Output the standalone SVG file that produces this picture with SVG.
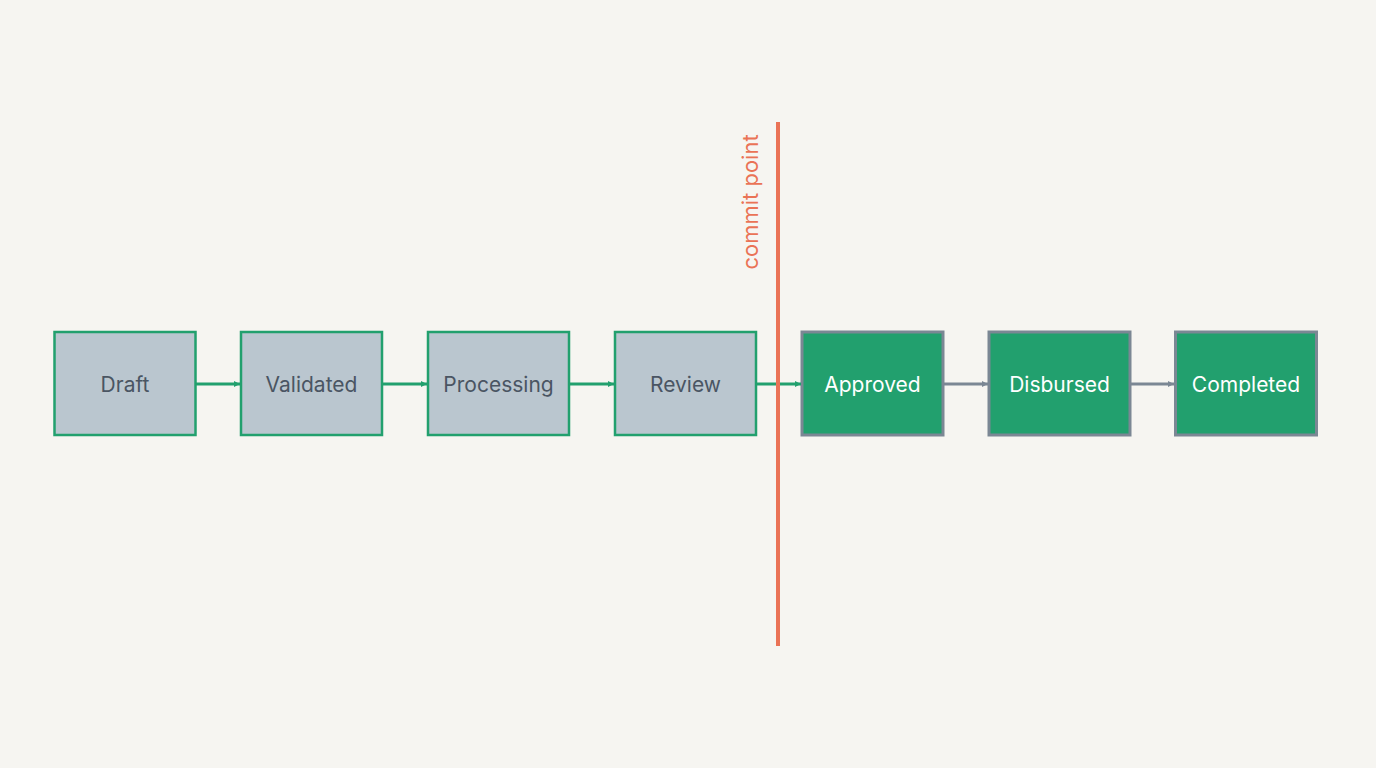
<svg xmlns="http://www.w3.org/2000/svg" width="1376" height="768" viewBox="0 0 1376 768">
<style>
.pre rect{fill:#bac6cf;stroke:#22a06e;stroke-width:2.5}
.post rect{fill:#22a06e;stroke:#7b8794;stroke-width:3}
text{font-family:Inter,"Liberation Sans",sans-serif;font-size:21px;text-anchor:middle;dominant-baseline:central}
.pre text{fill:#4a5563}
.post text{fill:#ffffff}
.g{stroke:#22a06e;stroke-width:3;marker-end:url(#ag)}
.s{stroke:#7b8794;stroke-width:3;marker-end:url(#as)}
</style>
<defs>
<marker id="ag" viewBox="0 0 10 10" refX="10" refY="5" markerWidth="6" markerHeight="6" markerUnits="userSpaceOnUse" orient="auto"><path d="M0,0L10,5L0,10z" fill="#22a06e"/></marker>
<marker id="as" viewBox="0 0 10 10" refX="10" refY="5" markerWidth="6" markerHeight="6" markerUnits="userSpaceOnUse" orient="auto"><path d="M0,0L10,5L0,10z" fill="#7b8794"/></marker>
</defs>
<rect width="1376" height="768" fill="#f6f5f1"/>
<g id="n1" class="pre"><rect x="54.5" y="332" width="141" height="103"/><text x="125" y="384">Draft</text></g>
<g id="n2" class="pre"><rect x="241" y="332" width="141" height="103"/><text x="311.5" y="384">Validated</text></g>
<g id="n3" class="pre"><rect x="428" y="332" width="141" height="103"/><text x="498.5" y="384">Processing</text></g>
<g id="n4" class="pre"><rect x="615" y="332" width="141" height="103"/><text x="685.5" y="384">Review</text></g>
<g id="n5" class="post"><rect x="802" y="332" width="141" height="103"/><text x="872.5" y="384">Approved</text></g>
<g id="n6" class="post"><rect x="989" y="332" width="141" height="103"/><text x="1059.5" y="384">Disbursed</text></g>
<g id="n7" class="post"><rect x="1175.5" y="332" width="141" height="103"/><text x="1246" y="384">Completed</text></g>
<g id="connectors" fill="none">
<line class="g" x1="196" y1="384" x2="240" y2="384" style="marker-end:url(#ag)"/>
<line class="g" x1="383" y1="384" x2="427" y2="384"/>
<line class="g" x1="570" y1="384" x2="614" y2="384"/>
<line class="g" x1="757" y1="384" x2="801" y2="384"/>
<line class="s" x1="944" y1="384" x2="988" y2="384"/>
<line class="s" x1="1131" y1="384" x2="1174" y2="384"/>
</g>
<g id="commit">
<line x1="778" y1="122" x2="778" y2="646" stroke="#ea7356" stroke-width="4"/>
<text x="750" y="202" transform="rotate(-90 750 202)" style="fill:#ea7356;font-size:22px">commit point</text>
</g>
</svg>
